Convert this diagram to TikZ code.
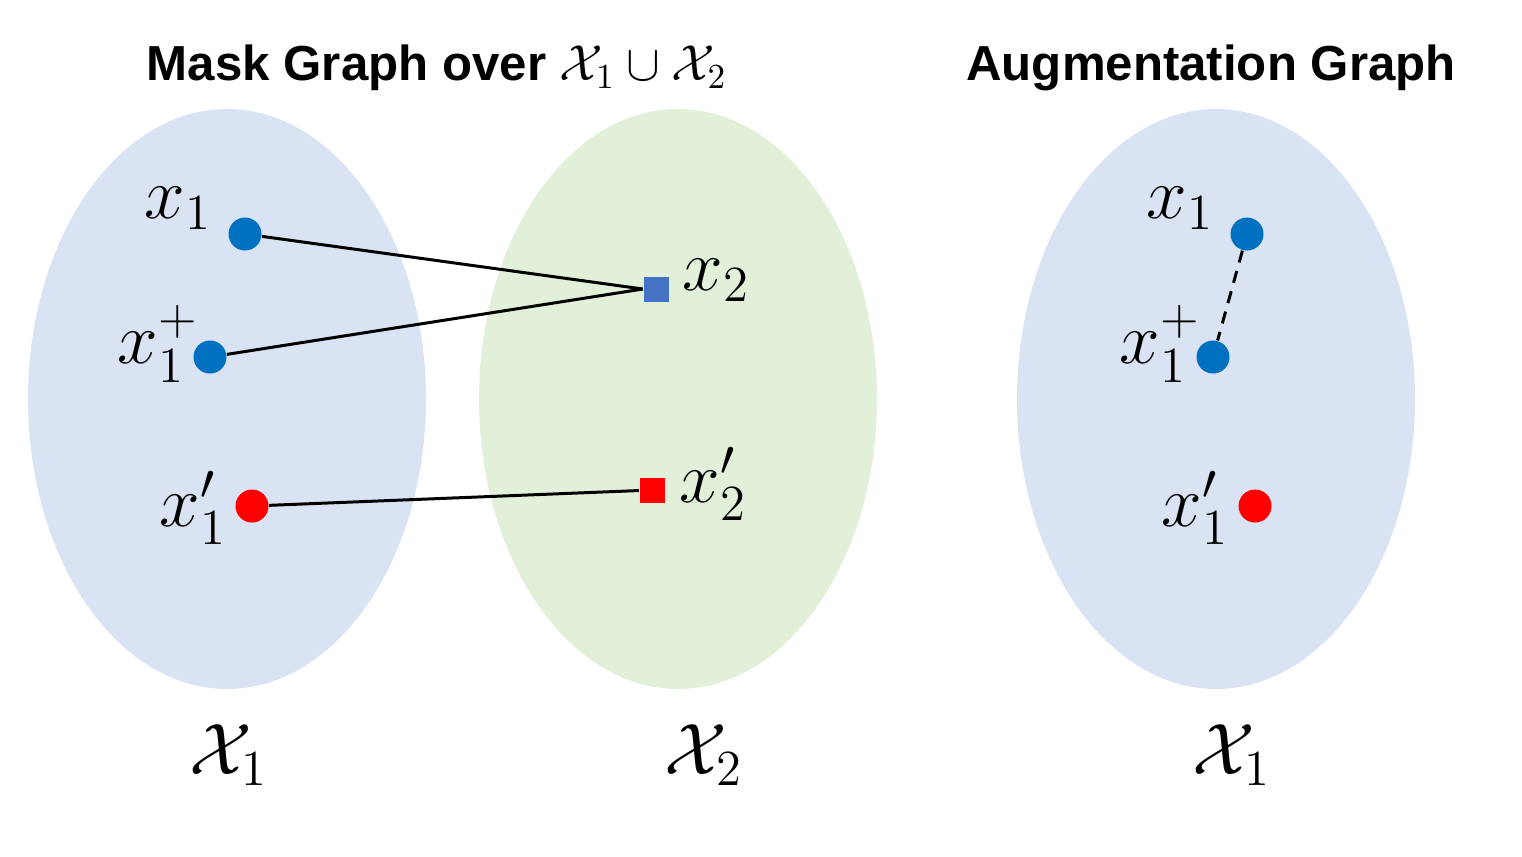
\documentclass[tikz,border=0pt]{standalone}
\usepackage{amsmath}
\usepackage{fontspec}
\setsansfont{Liberation Sans}
\usetikzlibrary{positioning}
\definecolor{setblue}{HTML}{DAE3F3}
\definecolor{setgreen}{HTML}{E2F0D9}
\definecolor{dotblue}{HTML}{0070C0}
\definecolor{sqblue}{HTML}{4472C4}
\tikzset{dot/.style = {fill, circle, inner sep = 0, minimum size = 0.33cm}}
\tikzset{sq/.style = {fill, rectangle, inner sep = 0, minimum size = 0.25cm}}
\tikzset{lbl/.style = {inner sep = 0, font=\fontsize{20}{23}\selectfont}}
\tikzset{setlbl/.style = {inner sep = 0, font=\fontsize{21}{24}\selectfont}}
\tikzset{ttl/.style = {inner sep = 0, font=\sffamily\bfseries\fontsize{14}{18}\selectfont}}
\tikzset{edge/.style = {black, line width = 0.85pt}}

\begin{document}
\begin{tikzpicture}
        \useasboundingbox (0,0) rectangle (15.22,-8.56);
        % the three sets
        \fill [setblue] (2.27,-3.99) ellipse [x radius=1.99, y radius=2.90];
        \fill [setgreen] (6.78,-3.99) ellipse [x radius=1.99, y radius=2.90];
        \fill [setblue] (12.16,-3.99) ellipse [x radius=1.99, y radius=2.90];
        \node [ttl] (t1) at (4.37,-0.68) {Mask Graph over $\mathcal{X}_1\cup\mathcal{X}_2$};
        \node [ttl] (t2) at (12.11,-0.68) {Augmentation Graph};
        \node [setlbl] (s1) at (2.29,-7.55) {$\mathcal{X}_1$};
        \node [setlbl] (s2) at (7.04,-7.55) {$\mathcal{X}_2$};
        \node [setlbl] (s3) at (12.32,-7.55) {$\mathcal{X}_1$};
        % mask graph
        \node [dot, dotblue] (a1) at (2.45,-2.34) {};
        \node [dot, dotblue] (a1p) at (2.10,-3.57) {};
        \node [dot, red] (a1q) at (2.52,-5.06) {};
        \node [sq, sqblue] (b2) at (6.56,-2.89) {};
        \node [sq, red] (b2q) at (6.52,-4.90) {};
        \node [lbl] at (1.78,-2.08) {$x_1$};
        \node [lbl] at (1.58,-3.44) {$x_1^+$};
        \node [lbl] at (1.93,-5.08) {$x_1'$};
        \node [lbl] at (7.16,-2.80) {$x_2$};
        \node [lbl] at (7.13,-4.84) {$x_2'$};
        \draw [edge] (a1) -- (b2.west);
        \draw [edge] (a1p) -- (b2.west);
        \draw [edge] (a1q) -- (b2q);
        % augmentation graph
        \node [dot, dotblue] (c1) at (12.47,-2.34) {};
        \node [dot, dotblue] (c1p) at (12.13,-3.57) {};
        \node [dot, red] (c1q) at (12.55,-5.06) {};
        \node [lbl] at (11.80,-2.08) {$x_1$};
        \node [lbl] at (11.60,-3.44) {$x_1^+$};
        \node [lbl] at (11.95,-5.08) {$x_1'$};
        \draw [edge, dash pattern=on 3.5pt off 2.5pt] (c1) -- (c1p);
    \end{tikzpicture}
\end{document}
